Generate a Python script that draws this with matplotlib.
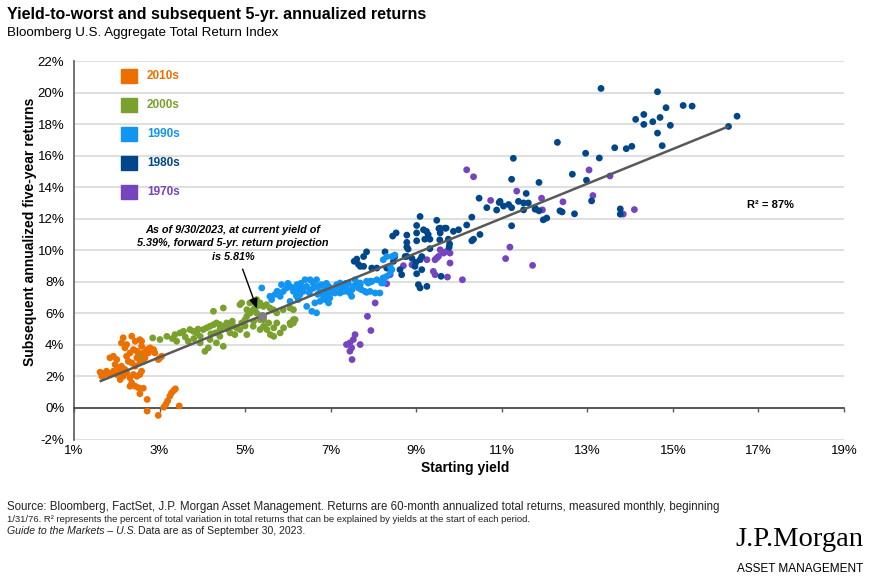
import matplotlib
matplotlib.use("Agg")
import matplotlib.pyplot as plt
from matplotlib.patches import Rectangle
from matplotlib.ticker import NullLocator

plt.rcParams['font.family'] = ['Liberation Sans', 'DejaVu Sans']

# ---------------- data ----------------
decades = ["2010s", "2000s", "1990s", "1980s", "1970s"]
colors = {"2010s": "#EC7000", "2000s": "#7AA02E", "1990s": "#1194F2",
          "1980s": "#00468B", "1970s": "#7644BE"}

x_2010s = [2.54, 2.62, 2.71, 2.71, 2.97, 3.10, 3.15, 3.19, 3.24, 3.28, 3.33, 3.37, 3.46,
           1.61, 1.69, 1.76, 1.84, 1.92, 1.65, 1.84, 1.92, 2.00, 1.96, 2.04, 2.11, 2.08,
           2.19, 2.15, 2.23, 2.31, 2.35, 2.43, 2.51, 2.31, 2.39, 2.47, 2.54, 2.58, 2.15,
           2.35, 2.54, 2.11, 2.23, 2.43, 2.58, 2.70, 2.78, 2.86, 2.89, 2.74, 3.01, 2.97,
           3.05, 2.58, 2.62, 2.39, 2.31, 2.23, 2.19, 2.47, 2.54, 2.35, 2.43, 2.08, 2.00,
           1.72, 2.27, 2.47, 2.66]
y_2010s = [0.90, 1.25, 0.54, -0.20, -0.47, 0.05, 0.25, 0.45, 0.75, 0.96, 1.10, 1.21, 0.13,
           2.27, 2.18, 2.33, 2.12, 2.33, 2.01, 3.18, 3.28, 3.07, 2.75, 2.54, 2.65, 2.33,
           2.44, 2.01, 2.23, 1.91, 1.59, 1.38, 1.28, 1.38, 2.12, 2.01, 2.12, 2.33, 4.45,
           4.55, 4.33, 4.12, 4.02, 4.23, 4.23, 3.70, 3.81, 3.70, 3.49, 3.49, 3.18, 3.07,
           3.28, 3.91, 3.49, 3.70, 3.49, 3.28, 3.81, 3.18, 2.86, 2.86, 2.65, 1.80, 2.12,
           2.12, 2.96, 3.60, 3.18]

x_2000s = [2.54, 2.62, 2.50, 2.84, 3.01, 3.17, 3.36, 3.40, 3.48, 3.56, 3.67, 3.71, 3.79,
           3.87, 3.95, 3.95, 4.02, 4.06, 4.10, 4.14, 4.18, 4.18, 4.26, 4.26, 4.30, 4.33,
           4.33, 4.41, 4.41, 4.49, 4.49, 4.49, 4.57, 4.65, 4.65, 4.73, 4.76, 4.80, 4.88,
           4.88, 4.92, 5.00, 5.04, 5.04, 5.12, 5.19, 5.19, 5.23, 5.27, 5.31, 5.35, 5.35,
           5.43, 5.43, 5.51, 5.55, 5.59, 5.67, 5.67, 5.74, 5.82, 5.90, 6.06, 6.13, 6.17,
           5.04, 5.11, 5.19, 5.27, 5.35, 5.43, 5.50, 5.58, 5.66, 5.74, 5.89, 6.05, 6.13,
           6.13, 6.05, 4.92, 3.30, 3.60, 3.90, 4.20, 4.60, 4.40, 5.00, 5.20, 4.70, 3.80]
y_2000s = [3.20, 2.95, 3.50, 4.44, 4.34, 4.54, 4.65, 4.23, 4.76, 4.86, 4.23, 4.97, 4.86,
           4.76, 4.54, 4.13, 4.97, 3.59, 5.08, 3.81, 5.18, 4.34, 5.28, 6.13, 4.76, 5.39,
           4.13, 4.97, 4.54, 6.34, 5.18, 3.91, 5.39, 5.28, 4.76, 5.18, 4.65, 5.08, 4.97,
           6.55, 5.39, 5.60, 5.81, 4.65, 6.02, 6.23, 5.18, 6.34, 6.02, 6.49, 5.60, 4.97,
           5.18, 5.60, 4.97, 5.39, 4.65, 5.08, 4.54, 5.39, 4.76, 5.08, 5.28, 5.39, 5.60,
           6.23, 6.66, 6.76, 6.87, 6.66, 6.44, 6.55, 6.34, 6.23, 6.03, 6.23, 6.34, 6.23,
           5.60, 5.39, 6.66, 4.40, 4.50, 5.00, 4.70, 5.00, 5.30, 5.20, 5.50, 5.50, 4.40]

x_1990s = [5.39, 5.85, 5.89, 5.82, 5.97, 6.05, 6.13, 6.21, 6.24, 6.28, 6.36, 6.40, 6.44,
           6.52, 6.59, 6.67, 6.71, 6.75, 6.79, 6.83, 6.91, 6.95, 6.98, 7.06, 7.14, 7.22,
           7.30, 7.37, 7.45, 7.53, 7.57, 7.61, 7.69, 7.72, 7.80, 7.84, 7.88, 7.96, 8.08,
           8.15, 8.19, 8.23, 8.31, 8.39, 8.43, 6.56, 6.44, 6.24, 6.05, 6.63, 6.75, 6.87,
           6.95, 6.67, 6.32, 6.52, 6.87, 7.10, 7.22, 7.26, 7.41, 7.92, 8.04, 8.23, 8.31,
           8.43, 8.50, 8.23, 8.23, 7.92, 7.84, 7.69, 7.49, 7.38, 8.39, 7.96, 5.58, 5.62,
           5.70, 6.00, 6.10, 6.30, 6.50, 6.60, 6.90, 7.00, 7.20, 7.35, 7.50, 7.65, 6.20,
           6.70, 7.00, 5.75]
y_1990s = [7.61, 7.82, 7.39, 7.08, 7.61, 7.71, 7.39, 7.82, 7.50, 7.18, 7.39, 8.13, 7.71,
           7.50, 7.92, 8.13, 7.71, 7.39, 7.82, 7.08, 7.29, 7.71, 6.97, 7.50, 7.82, 7.92,
           7.39, 7.61, 7.29, 7.71, 8.13, 7.82, 7.92, 7.50, 7.39, 8.03, 7.92, 8.03, 8.13,
           7.29, 7.92, 8.24, 8.34, 8.56, 8.77, 6.13, 6.44, 6.87, 6.76, 6.66, 6.76, 6.87,
           6.66, 6.03, 7.61, 8.13, 7.50, 7.29, 7.29, 7.71, 7.92, 7.39, 7.29, 9.40, 9.60,
           9.60, 9.70, 8.24, 7.93, 8.03, 7.33, 7.81, 7.08, 7.40, 8.98, 8.03, 7.08, 6.87,
           7.20, 7.90, 7.60, 7.90, 7.30, 7.60, 7.90, 7.60, 7.60, 7.90, 7.50, 7.60, 7.10,
           7.20, 7.30, 7.40]

x_1980s = [7.61, 7.77, 7.84, 7.69, 7.77, 7.96, 8.08, 8.27, 8.50, 8.74, 8.78, 8.62, 8.66,
           8.97, 9.01, 9.13, 9.09, 8.90, 9.58, 9.05, 9.09, 9.25, 8.31, 8.47, 8.53, 8.45,
           7.65, 7.55,
           9.09, 9.48, 9.01, 9.17, 9.24, 9.28, 9.56, 9.67, 9.56, 9.20, 9.32, 9.01, 8.78,
           8.78, 9.01, 9.32, 9.13, 9.75, 9.87, 9.99, 10.18, 10.30, 10.30, 10.49, 10.34,
           9.78, 9.53, 9.70, 9.77, 9.55, 8.81, 8.78, 8.99,
           10.47, 10.96, 10.65, 10.88, 11.04, 11.16, 11.23, 11.39, 11.51, 11.62, 11.51,
           11.78, 11.87, 11.97, 12.05, 12.36, 11.23, 11.27, 11.23, 11.87, 11.57, 10.94,
           13.32, 14.64, 14.84, 15.24, 15.45, 14.13, 14.32, 14.32, 14.53, 14.70, 14.64,
           14.94, 14.75, 13.64, 13.91, 14.04, 12.30, 12.96, 13.28, 12.65, 12.98, 13.10,
           12.41, 12.70, 13.77, 13.77, 11.78, 16.30, 16.50]
y_1980s = [9.44, 9.60, 9.90, 8.98, 8.98, 8.87, 8.87, 9.90, 9.60, 9.60, 10.20, 8.77, 8.45,
           8.98, 8.51, 8.77, 9.40, 9.49, 8.35, 7.82, 7.61, 7.71, 8.87, 9.30, 11.10, 10.90,
           9.10, 9.30,
           12.14, 11.90, 11.57, 11.30, 11.20, 11.00, 11.40, 11.40, 11.10, 10.70, 10.70,
           11.10, 10.96, 10.50, 10.60, 10.10, 9.60, 10.70, 11.20, 11.30, 11.60, 12.10,
           10.60, 11.00, 10.70, 10.40, 11.38, 11.40, 10.20, 10.66, 10.07, 9.61, 9.23,
           13.30, 13.10, 12.70, 12.55, 12.80, 12.90, 12.70, 13.10, 13.00, 13.00, 12.56,
           12.60, 12.50, 11.93, 12.04, 12.50, 11.55, 15.83, 14.50, 14.30, 13.60, 13.03,
           20.26, 20.05, 19.04, 19.18, 19.14, 18.30, 18.61, 17.98, 18.15, 18.42, 17.43,
           17.92, 16.63, 16.50, 16.44, 16.59, 16.84, 16.15, 15.85, 14.82, 14.44, 13.13,
           12.43, 12.31, 12.62, 12.29, 12.67, 17.85, 18.50]

x_1970s = [8.04, 7.86, 7.94, 7.57, 7.53, 7.45, 7.37, 7.49, 7.45, 7.69, 7.50,
           10.18, 10.34, 11.35, 10.74, 11.93, 11.95, 11.19, 11.09, 11.72, 9.56, 9.64,
           9.71, 9.79, 9.48, 9.44, 9.79, 9.40, 9.44, 9.73, 10.08, 9.25, 8.90, 8.39,
           8.31, 13.04, 13.53, 13.13, 12.43, 13.84, 14.10, 9.63, 9.52, 8.70]
y_1970s = [6.66, 5.81, 4.91, 4.65, 4.34, 4.13, 4.02, 3.81, 3.60, 4.02, 3.07,
           15.10, 14.66, 13.75, 13.16, 13.30, 12.56, 10.20, 9.47, 9.04, 10.03, 9.82,
           9.93, 9.82, 9.51, 9.40, 9.19, 8.66, 8.45, 8.30, 8.13, 9.40, 9.08, 8.45,
           7.88, 15.09, 14.71, 13.47, 13.07, 12.29, 12.58, 9.86, 9.61, 9.02]

series = {"2010s": (x_2010s, y_2010s), "2000s": (x_2000s, y_2000s),
          "1990s": (x_1990s, y_1990s), "1980s": (x_1980s, y_1980s),
          "1970s": (x_1970s, y_1970s)}

fit_x = [1.60, 16.30]
fit_y = [1.68, 17.85]
current_yield = 5.39
current_proj = 5.81
r2_label = "R² = 87%"

x_ticks = [1, 3, 5, 7, 9, 11, 13, 15, 17, 19]
y_ticks = [-2, 0, 2, 4, 6, 8, 10, 12, 14, 16, 18, 20, 22]

# ---------------- figure ----------------
W, H = 872, 582
fig = plt.figure(figsize=(W / 100, H / 100), dpi=100)
ax_l, ax_r, ax_t, ax_b = 74, 844, 61, 439.5
ax = fig.add_axes([ax_l / W, 1 - ax_b / H, (ax_r - ax_l) / W, (ax_b - ax_t) / H])

ax.set_xlim(1, 19)
ax.set_ylim(-2, 22)
ax.set_xticks(x_ticks)
ax.set_xticklabels([f"{t}%" for t in x_ticks])
ax.set_yticks(y_ticks)
ax.set_yticklabels([f"{t}%" for t in y_ticks])
ax.xaxis.set_minor_locator(NullLocator())
ax.yaxis.set_minor_locator(NullLocator())

ax.yaxis.grid(True, color="#D9D9D9", lw=1.2)
ax.set_axisbelow(True)
for s in ["top", "right"]:
    ax.spines[s].set_visible(False)
ax.spines["left"].set_color("#595959")
ax.spines["left"].set_linewidth(1.2)
ax.spines["bottom"].set_position(("data", 0))
ax.spines["bottom"].set_color("#404040")
ax.spines["bottom"].set_linewidth(1.2)
ax.tick_params(axis="y", length=0, pad=7, labelsize=9.5, labelcolor="#000000")
ax.tick_params(axis="x", length=3, width=1, color="#595959", direction="out",
               pad=24, labelsize=9.5, labelcolor="#000000")

# scatter: chronological order, later on top
for i, d in enumerate(["1970s", "1980s", "1990s", "2000s", "2010s"]):
    xs, ys = series[d]
    ax.scatter(xs, ys, s=24, color=colors[d], edgecolors="none", zorder=3 + i)

ax.plot(fit_x, fit_y, color="#595959", lw=1.8, zorder=10, solid_capstyle="butt")
ax.scatter([current_yield], [current_proj], s=30, color="#7F7F7F", zorder=11)

ax.text(4.72, 10.45,
        "As of 9/30/2023, at current yield of\n5.39%, forward 5-yr. return projection\nis 5.81%",
        ha="center", va="center", fontsize=7.8, fontweight="bold", style="italic",
        linespacing=1.45, zorder=12)
ax.annotate("", xy=(5.30, 6.13), xytext=(4.92, 8.97),
            arrowprops=dict(arrowstyle="-|>,head_length=0.6,head_width=0.25",
                            color="black", lw=1.0), zorder=12)

ax.text(17.27, 12.9, r2_label, ha="center", va="center", fontsize=8,
        fontweight="bold")

# legend
leg_y = [76, 105, 134, 163, 192]
for d, py in zip(decades, leg_y):
    yf = (ax_b - py) / (ax_b - ax_t)
    ax.add_patch(Rectangle(((121 - ax_l) / (ax_r - ax_l), yf - 7 / (ax_b - ax_t)),
                           16 / (ax_r - ax_l), 14 / (ax_b - ax_t),
                           transform=ax.transAxes, color=colors[d], clip_on=False,
                           zorder=15))
    ax.text((147 - ax_l) / (ax_r - ax_l), yf, d, transform=ax.transAxes,
            ha="left", va="center", fontsize=8.5, fontweight="bold",
            color=colors[d])

ax.set_xlabel("Starting yield", fontsize=10, fontweight="bold")
ax.xaxis.set_label_coords((465 - ax_l) / (ax_r - ax_l), (ax_b - 461) / (ax_b - ax_t))
ax.set_ylabel("Subsequent annualized five-year returns", fontsize=10,
              fontweight="bold")
ax.yaxis.set_label_coords((37 - ax_l) / (ax_r - ax_l), (ax_b - 232) / (ax_b - ax_t))

# titles
fig.text(7 / W, 1 - 14 / H, "Yield-to-worst and subsequent 5-yr. annualized returns",
         fontsize=11.5, fontweight="bold", ha="left", va="center")
fig.text(7 / W, 1 - 33 / H, "Bloomberg U.S. Aggregate Total Return Index",
         fontsize=9.6, ha="left", va="center")

# footer
fc = "#222222"
fig.text(7 / W, 1 - 507 / H,
         "Source: Bloomberg, FactSet, J.P. Morgan Asset Management. Returns are 60-month annualized total returns, measured monthly, beginning",
         fontsize=8.3, ha="left", va="center", color=fc)
fig.text(7 / W, 1 - 519 / H,
         "1/31/76. R² represents the percent of total variation in total returns that can be explained by yields at the start of each period.",
         fontsize=6.8, ha="left", va="center", color=fc)
t1 = fig.text(7 / W, 1 - 531 / H, "Guide to the Markets – U.S.", fontsize=7.6,
              style="italic", ha="left", va="center", color=fc)
fig.canvas.draw()
bb = t1.get_window_extent()
fig.text(bb.x1 / W + 2 / W, 1 - 531 / H, "Data are as of September 30, 2023.",
         fontsize=7.6, ha="left", va="center", color=fc)

fig.text(863 / W, 1 - 540 / H, "J.P.Morgan", fontsize=20.5,
         family=["Liberation Serif", "DejaVu Serif"], ha="right", va="center")
fig.text(863 / W, 1 - 569 / H, "ASSET MANAGEMENT", fontsize=8.5,
         ha="right", va="center")

fig.savefig("out.png", dpi=100)
